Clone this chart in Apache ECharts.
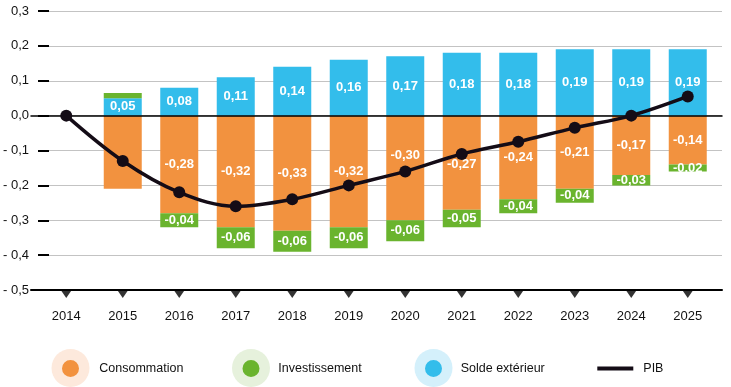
<!DOCTYPE html>
<html><head><meta charset="utf-8">
<script src="https://cdn.jsdelivr.net/npm/echarts@6/dist/echarts.min.js"></script>
<style>html,body{margin:0;padding:0;background:#fff}#c{width:731px;height:387px}</style>
</head><body><div id="c"></div>
<script>
// ---- data ----
const years = ['2014','2015','2016','2017','2018','2019','2020','2021','2022','2023','2024','2025'];
const consommation   = [null, -0.21, -0.28, -0.32, -0.33, -0.32, -0.30, -0.27, -0.24, -0.21, -0.17, -0.14];
const investissement = [null, 0.015, -0.04, -0.06, -0.06, -0.06, -0.06, -0.05, -0.04, -0.04, -0.03, -0.02];
const soldeExterieur = [null, 0.05, 0.08, 0.11, 0.14, 0.16, 0.17, 0.18, 0.18, 0.19, 0.19, 0.19];
const pib            = [0, -0.13, -0.22, -0.26, -0.24, -0.20, -0.16, -0.11, -0.075, -0.035, 0.0, 0.055];
const unlabelledYears = ['2015'];
const yMin = -0.5, yMax = 0.3, yStep = 0.1;
const seriesNames = ['Consommation', 'Investissement', 'Solde extérieur', 'PIB'];

// ---- styles ----
const FONT = '"Liberation Sans", Arial, Helvetica, sans-serif';
const C_ORANGE = '#f2923f', C_GREEN = '#6ab42e', C_BLUE = '#33bdeb', C_PIB = '#140c16';
const labelShift = {'2020': [0, -13], '2021': [0, 2]};
const fmtBar = v => v.toFixed(2).replace('.', ',');
const fmtAxis = v => { const s = Math.abs(v).toFixed(1).replace('.', ','); return v < -1e-9 ? '- ' + s : s; };

function barData(arr, hideSome, shift) {
  return arr.map((v, i) => {
    if (v == null) return v;
    if (hideSome && unlabelledYears.includes(years[i])) return {value: v, label: {show: false}};
    if (shift && labelShift[years[i]]) return {value: v, label: {offset: labelShift[years[i]]}};
    return v;
  });
}

const barLabel = {show: true, position: 'inside', color: '#fff', fontWeight: 'bold', fontSize: 13, fontFamily: FONT,
  formatter: p => (p.value == null ? '' : fmtBar(p.value))};

function bar(name, data, color) {
  return {type: 'bar', name, data, stack: 'total', barWidth: 38, xAxisIndex: 0, yAxisIndex: 0,
    itemStyle: {color}, label: barLabel, z: 2};
}

function halo(name, color, cx) {
  return {data: [{name, itemStyle: {color}}], icon: 'circle', itemWidth: 38, itemHeight: 38, left: cx - 19, top: 349,
    padding: 0, selectedMode: false, formatter: () => '', z: 3, itemStyle: {borderWidth: 0}};
}
function dotIcon(W, H, r) {
  const c = W / 2, m = H / 2;
  return `path://M0,0M${W},${H}M${c - r},${m}A${r},${r} 0 1 1 ${c + r},${m}A${r},${r} 0 1 1 ${c - r},${m}Z`;
}
function mainItem(name, cx, textX) {
  const W = 2 * (textX - 5 - cx);
  return {data: [name], icon: dotIcon(W, 17, 8.5), itemWidth: W, itemHeight: 17, left: cx - W / 2, top: 360,
    padding: 0, selectedMode: false, z: 4, itemStyle: {borderWidth: 0},
    textStyle: {fontSize: 12.5, color: '#111', fontFamily: FONT}};
}

const chart = echarts.init(document.getElementById('c'), null, {renderer: 'canvas'});
chart.setOption({
  animation: false,
  backgroundColor: '#fff',
  grid: [
    {left: 38, right: 15, top: 11, bottom: 97},
    {left: 43, right: 9, top: 11, bottom: 97},
    {left: 31, right: 9, top: 11, bottom: 97}
  ],
  xAxis: [
    {gridIndex: 0, type: 'category', data: years, axisLine: {show: false, onZero: false}, axisTick: {show: false},
      axisLabel: {margin: 20, fontSize: 13, color: '#111', fontFamily: FONT}, splitLine: {show: false}},
    {gridIndex: 1, type: 'category', data: years, show: false},
    {gridIndex: 2, type: 'category', data: years, position: 'bottom', z: 3,
      axisLine: {show: true, onZero: false, lineStyle: {color: '#000', width: 2}}, axisTick: {show: false}, axisLabel: {show: false}},
    {gridIndex: 2, type: 'category', data: years, position: 'top', z: 3,
      axisLine: {show: true, onZero: true, lineStyle: {color: '#000', width: 1.5}}, axisTick: {show: false}, axisLabel: {show: false}}
  ],
  yAxis: [
    {gridIndex: 0, type: 'value', min: yMin, max: yMax, interval: yStep, show: false},
    {gridIndex: 1, type: 'value', min: yMin, max: yMax, interval: yStep,
      axisLine: {show: false},
      axisTick: {show: true, length: 11, lineStyle: {color: '#000', width: 2}},
      axisLabel: {margin: 20, fontSize: 13, color: '#111', fontFamily: FONT, formatter: fmtAxis},
      splitLine: {show: true, lineStyle: {color: '#c3c3c3', width: 1.2}}},
    {gridIndex: 2, type: 'value', min: yMin, max: yMax, interval: yStep, show: false}
  ],
  legend: [
    halo(seriesNames[0], '#fde9dc', 70.5),
    halo(seriesNames[1], '#e6f1dc', 251),
    halo(seriesNames[2], '#d4f0fb', 433.5),
    mainItem(seriesNames[0], 70.5, 99.3),
    mainItem(seriesNames[1], 251, 278.3),
    mainItem(seriesNames[2], 433.5, 460.7),
    {data: [seriesNames[3]], icon: 'path://M0,0M46,17M5,6.5L41,6.5L41,10.5L5,10.5Z', itemWidth: 46, itemHeight: 17,
      left: 592.3, top: 360, padding: 0, selectedMode: false, z: 4, itemStyle: {borderWidth: 0},
      textStyle: {fontSize: 12.5, color: '#111', fontFamily: FONT}}
  ],
  series: [
    bar(seriesNames[0], barData(consommation, true, true), C_ORANGE),
    bar(seriesNames[2], barData(soldeExterieur, false, false), C_BLUE),
    bar(seriesNames[1], barData(investissement, true, false), C_GREEN),
    {type: 'line', name: seriesNames[3], data: pib, xAxisIndex: 0, yAxisIndex: 0, smooth: 0.35,
      symbol: 'circle', symbolSize: 12, lineStyle: {color: C_PIB, width: 3.5}, itemStyle: {color: C_PIB}, z: 5},
    {type: 'scatter', name: 'ticks', data: years.map(() => yMin), xAxisIndex: 0, yAxisIndex: 0,
      symbol: 'path://M0,0L10,0L5,8Z', symbolSize: [11, 8], symbolOffset: [0, 4], itemStyle: {color: '#000'},
      z: 5, silent: true, clip: false}
  ]
});
</script></body></html>
